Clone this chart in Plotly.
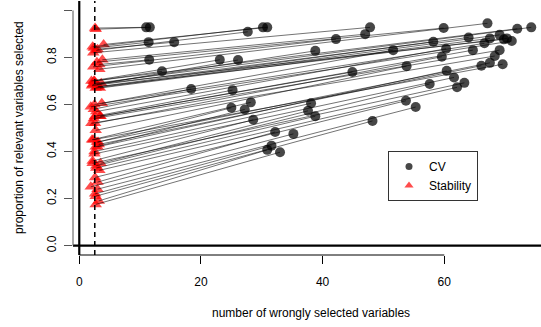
import plotly.graph_objects as go

# CV results (number of wrongly selected variables, proportion of relevant selected)
cv_x = [11.0, 11.6, 11.4, 15.6, 11.5, 13.6, 30.2, 30.9, 27.7, 42.2,
        38.8, 23.1, 26.1, 44.9, 18.4, 25.2, 28.2, 25.0, 27.2, 38.1,
        37.6, 38.8, 28.6, 32.2, 35.2, 31.6, 30.9, 33.0, 67.1, 47.8,
        59.9, 47.0, 72.0, 74.3, 64.0, 58.2, 69.1, 67.5, 66.6, 69.8,
        70.3, 71.1, 60.3, 64.7, 69.1, 51.6, 59.6, 68.3, 67.5, 66.1,
        69.6, 53.8, 60.4, 61.6, 57.6, 62.1, 63.3, 53.7, 55.3, 48.2]
cv_y = [0.928, 0.928, 0.865, 0.865, 0.790, 0.741, 0.928, 0.928, 0.909, 0.878,
        0.828, 0.790, 0.789, 0.738, 0.666, 0.661, 0.609, 0.586, 0.579, 0.605,
        0.573, 0.550, 0.535, 0.483, 0.475, 0.425, 0.407, 0.397, 0.945, 0.928,
        0.925, 0.899, 0.922, 0.928, 0.885, 0.867, 0.896, 0.881, 0.860, 0.877,
        0.881, 0.870, 0.837, 0.831, 0.831, 0.831, 0.803, 0.806, 0.777, 0.765,
        0.771, 0.763, 0.743, 0.715, 0.687, 0.673, 0.692, 0.616, 0.589, 0.530]

# Stability selection results (paired with CV results above)
stab_x = [2.6, 2.7, 2.4, 3.0, 3.3, 2.5, 2.2, 4.0, 2.8, 2.3,
          3.6, 2.0, 2.9, 3.4, 2.4, 2.6, 2.1, 3.1, 2.7, 2.5,
          3.5, 2.8, 2.2, 3.0, 1.9, 2.6, 3.2, 2.7, 3.3, 2.3,
          2.9, 3.8, 2.4, 2.6, 2.1, 3.0, 2.7, 3.4, 2.5, 2.2,
          3.1, 1.9, 2.8, 3.5, 2.4, 3.7, 2.6, 2.0, 2.9, 3.2,
          2.3, 2.7, 3.0, 2.5, 2.8, 3.3, 2.2, 2.6, 3.0, 2.7]
stab_y = [0.925, 0.920, 0.840, 0.835, 0.770, 0.700, 0.845, 0.855, 0.830, 0.760,
          0.690, 0.700, 0.685, 0.550, 0.580, 0.550, 0.450, 0.440, 0.420, 0.400,
          0.350, 0.330, 0.360, 0.270, 0.250, 0.220, 0.190, 0.175, 0.750, 0.820,
          0.780, 0.790, 0.700, 0.690, 0.680, 0.675, 0.670, 0.670, 0.600, 0.685,
          0.675, 0.590, 0.570, 0.550, 0.540, 0.605, 0.520, 0.520, 0.440, 0.430,
          0.450, 0.490, 0.420, 0.390, 0.340, 0.320, 0.350, 0.290, 0.240, 0.210]

x_ticks = [0, 20, 40, 60]
y_ticks = [0.0, 0.2, 0.4, 0.6, 0.8, 1.0]
y_tick_text = ["0.0", "0.2", "0.4", "0.6", "0.8", "1.0"]
threshold_x = 2.55

FONT = "Liberation Sans, Arial, Helvetica, sans-serif"
CV_COLOR = "rgba(0,0,0,0.72)"
STAB_COLOR = "rgba(255,0,0,0.7)"

seg_x, seg_y = [], []
for sx, sy, cx, cy in zip(stab_x, stab_y, cv_x, cv_y):
    seg_x += [sx, cx, None]
    seg_y += [sy, cy, None]

fig = go.Figure()
fig.add_trace(go.Scatter(
    x=cv_x, y=cv_y, mode="markers", name="CV", showlegend=False,
    marker=dict(symbol="circle", size=10, color=CV_COLOR, line=dict(width=0)),
))
fig.add_trace(go.Scatter(
    x=stab_x, y=stab_y, mode="markers", name="Stability", showlegend=False,
    marker=dict(symbol="triangle-up", size=11, color=STAB_COLOR, line=dict(width=0)),
))
fig.add_trace(go.Scatter(
    x=seg_x, y=seg_y, mode="lines", showlegend=False, hoverinfo="skip",
    line=dict(color="rgba(0,0,0,0.55)", width=1),
))
# legend entries (smaller symbols as in the reference legend)
fig.add_trace(go.Scatter(
    x=[None], y=[None], mode="markers", name="CV",
    marker=dict(symbol="circle", size=7, color=CV_COLOR, line=dict(width=0)),
))
fig.add_trace(go.Scatter(
    x=[None], y=[None], mode="markers", name="Stability",
    marker=dict(symbol="triangle-up", size=8, color=STAB_COLOR, line=dict(width=0)),
))

shapes = [
    # thick reference lines at x=0 and y=0
    dict(type="line", xref="x", yref="paper", x0=0, x1=0, y0=0, y1=1,
         line=dict(color="black", width=2.2)),
    dict(type="line", xref="paper", yref="y", x0=0, x1=1, y0=0, y1=0,
         line=dict(color="black", width=2.2)),
    # dashed threshold line
    dict(type="line", xref="x", yref="paper", x0=threshold_x, x1=threshold_x, y0=0, y1=1,
         line=dict(color="black", width=1.5, dash="5px,4px")),
    # R-style axis lines
    dict(type="line", xref="x", yref="paper", x0=x_ticks[0], x1=x_ticks[-1], y0=0, y1=0,
         line=dict(color="black", width=1)),
    dict(type="line", xref="paper", yref="y", x0=0, x1=0, y0=y_ticks[0], y1=y_ticks[-1],
         line=dict(color="#555555", width=1)),
]

fig.update_layout(
    width=541, height=327,
    margin=dict(l=73, r=0, t=1, b=72, autoexpand=False),
    paper_bgcolor="white", plot_bgcolor="white",
    font=dict(family=FONT, size=12, color="black"),
    shapes=shapes,
    showlegend=True,
    legend=dict(
        x=(388 - 73) / 468, y=(255 - 151) / 254, xanchor="left", yanchor="top",
        bordercolor="#333333", borderwidth=1, bgcolor="white",
        font=dict(family=FONT, size=12, color="black"),
        tracegroupgap=0, itemwidth=30,
    ),
    xaxis=dict(
        range=[-1.03, 75.9], showgrid=False, zeroline=False, showline=False,
        automargin=False,
        tickmode="array", tickvals=x_ticks, ticks="outside", ticklen=8,
        tickcolor="black", tickwidth=1, ticklabelstandoff=8,
        tickfont=dict(family=FONT, size=12, color="black"),
    ),
    yaxis=dict(
        range=[-0.04, 1.04], showgrid=False, zeroline=False, showline=False,
        automargin=False,
        tickmode="array", tickvals=y_ticks, ticktext=y_tick_text, ticks="outside",
        ticklen=8, tickcolor="#555555", tickwidth=1, tickangle=-90,
        ticklabelstandoff=3,
        tickfont=dict(family=FONT, size=12, color="black"),
    ),
    annotations=[
        dict(text="number of wrongly selected variables", xref="paper", yref="paper",
             x=(311 - 73) / 468, y=-(313 - 255) / 254, xanchor="center", yanchor="middle",
             showarrow=False, font=dict(family=FONT, size=12, color="black")),
        dict(text="proportion of relevant variables selected", xref="paper", yref="paper",
             x=-(73 - 19) / 468, y=0.5, xanchor="center", yanchor="middle", textangle=-90,
             showarrow=False, font=dict(family=FONT, size=12, color="black")),
    ],
)

fig.write_html("out.html", config={"displayModeBar": False},
               post_script="document.body.style.margin='0';")
